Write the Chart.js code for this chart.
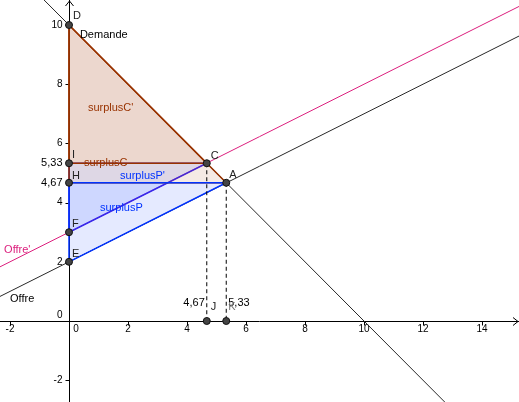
<!DOCTYPE html>
<html><head><meta charset="utf-8">
<script src="https://cdn.jsdelivr.net/npm/chart.js@4/dist/chart.umd.min.js"></script>
<style>html,body{margin:0;padding:0;background:#fff}#wrap{width:519px;height:402px;position:relative}</style>
</head><body><div id="wrap"><canvas id="c"></canvas></div>
<script>
// ---------- data ----------
const pointNames = ['D', 'I', 'H', 'F', 'E', 'C', 'A', 'J', 'K'];
const pointX = [0, 0, 0, 0, 0, 4.67, 5.33, 4.67, 5.33];
const pointY = [10, 5.33, 4.67, 3, 2, 5.33, 4.67, 0, 0];

const demandeX = [-3, 16];
const demandeY = [13, -6];
const offreX = [-3, 16];
const offreY = [0.5, 10];
const offrePrimeX = [-3, 16];
const offrePrimeY = [1.5, 11];

// polygon vertices (fill path from leftmost to rightmost, outline closed)
const surplusPPrimePoly = ['F', 'I', 'C'];
const surplusCPrimePoly = ['I', 'D', 'C'];
const surplusCPoly = ['H', 'D', 'A'];
const surplusPPoly = ['E', 'H', 'A'];

const dropLines = [['C', 'J'], ['A', 'K']];

const xTickValues = [-2, 0, 2, 4, 6, 8, 10, 12, 14];
const yTickValues = [-2, 0, 2, 4, 6, 8, 10];
const yMarkValues = [5.33, 4.67];
const yMarkLabels = ['5,33', '4,67'];
const xMarkValues = [4.67, 5.33];
const xMarkLabels = ['4,67', '5,33'];

const textLabels = ['Demande', "surplusC'", 'surplusC', "surplusP'", 'surplusP', "Offre'", 'Offre'];
const textX = [0.37, 0.64, 0.51, 1.73, 1.05, -2.20, -2.0];
const textY = [9.56, 7.09, 5.24, 4.80, 3.72, 2.30, 0.64];

// ---------- styles ----------
const BROWN = 'rgb(153,51,0)';
const BROWN_FILL = 'rgba(153,51,0,0.1)';
const BLUE = 'rgb(0,51,255)';
const BLUE_FILL = 'rgba(0,51,255,0.1)';
const PINK = 'rgb(220,30,125)';
const LINE = 'rgb(40,40,40)';
const FONT = '"Liberation Sans", Arial, sans-serif';
const textColors = ['#000', BROWN, BROWN, BLUE, BLUE, PINK, '#000'];
const labelOffsets = {D:[4,-6], I:[3,-5], H:[3,-4], F:[3,-5], E:[3,-5], C:[4,-4], A:[3,-5], J:[4,-11], K:[2,-11]};
const labelColors = {K:'#777'};

const P = n => { const i = pointNames.indexOf(n); return {x: pointX[i], y: pointY[i]}; };
const zip = (xs, ys) => xs.map((x, i) => ({x, y: ys[i]}));

function lineDs(data, color, order) {
  return {data, showLine: true, borderColor: color, borderWidth: 1, pointRadius: 0, fill: false, order};
}
function fillDs(names, color, order) {
  return {data: names.map(P), showLine: true, borderWidth: 0, borderColor: 'rgba(0,0,0,0)',
    backgroundColor: color, fill: 'shape', pointRadius: 0, order};
}
function outlineDs(names, color, order) {
  const pts = names.map(P); pts.push(P(names[0]));
  return {data: pts, showLine: true, borderWidth: 1.5, borderColor: color, pointRadius: 0, fill: false, order};
}

const datasets = [
  lineDs(zip(demandeX, demandeY), LINE, 30),
  lineDs(zip(offreX, offreY), LINE, 29),
  lineDs(zip(offrePrimeX, offrePrimeY), PINK, 28),
  fillDs(surplusPPrimePoly, BLUE_FILL, 20),
  outlineDs(surplusPPrimePoly, 'rgb(60,40,235)', 19),
  fillDs(surplusCPrimePoly, BROWN_FILL, 18),
  outlineDs(surplusCPrimePoly, BROWN, 17),
  fillDs(surplusCPoly, BROWN_FILL, 16),
  outlineDs(surplusCPoly, BROWN, 15),
  fillDs(surplusPPoly, BLUE_FILL, 14),
  outlineDs(surplusPPoly, BLUE, 13),
];
dropLines.forEach(([a, b]) => {
  datasets.push({data: [P(a), P(b)], showLine: true, borderColor: '#000', borderWidth: 1,
    borderDash: [4, 3], pointRadius: 0, fill: false, order: 5});
});
datasets.push({data: zip(pointX, pointY), showLine: false, pointRadius: 3.5,
  pointBackgroundColor: '#444', pointBorderColor: '#111', pointBorderWidth: 1, order: 0});

const axesPlugin = {
  id: 'axes',
  beforeDatasetsDraw(chart) {
    const {ctx, scales: {x, y}} = chart;
    const x0 = Math.round(x.getPixelForValue(0)) + 0.5;
    const y0 = Math.round(y.getPixelForValue(0)) + 0.5;
    ctx.save();
    ctx.strokeStyle = '#000'; ctx.lineWidth = 1;
    ctx.beginPath();
    ctx.moveTo(0, y0); ctx.lineTo(chart.width, y0);
    ctx.moveTo(x0, 0); ctx.lineTo(x0, chart.height);
    // arrows
    ctx.moveTo(chart.width - 6, y0 - 4); ctx.lineTo(chart.width - 1, y0); ctx.lineTo(chart.width - 6, y0 + 4);
    ctx.moveTo(x0 - 4, 6); ctx.lineTo(x0, 1); ctx.lineTo(x0 + 4, 6);
    // ticks
    xTickValues.forEach(v => { if (v === 0) return; const p = Math.round(x.getPixelForValue(v)) + 0.5; ctx.moveTo(p, y0); ctx.lineTo(p, y0 + 4); });
    yTickValues.forEach(v => { if (v === 0) return; const p = Math.round(y.getPixelForValue(v)) + 0.5; ctx.moveTo(x0, p); ctx.lineTo(x0 - 4, p); });
    ctx.stroke();
    // tick labels
    ctx.fillStyle = '#000';
    ctx.font = '10px ' + FONT;
    ctx.textAlign = 'center'; ctx.textBaseline = 'middle';
    xTickValues.forEach(v => {
      const p = x.getPixelForValue(v);
      ctx.fillText(String(v), v === 0 ? p + 7 : p, y0 + 8);
    });
    ctx.textAlign = 'right';
    yTickValues.forEach(v => {
      const p = y.getPixelForValue(v);
      ctx.fillText(String(v), x0 - 7, v === 0 ? p - 6 : p);
    });
    ctx.font = '11px ' + FONT;
    yMarkValues.forEach((v, i) => ctx.fillText(yMarkLabels[i], x0 - 7, y.getPixelForValue(v)));
    xMarkValues.forEach((v, i) => {
      const p = x.getPixelForValue(v);
      ctx.textAlign = i === 0 ? 'right' : 'left';
      ctx.fillText(xMarkLabels[i], i === 0 ? p - 2 : p + 2, y0 - 19);
    });
    ctx.restore();
  },
  afterDatasetsDraw(chart) {
    const {ctx, scales: {x, y}} = chart;
    ctx.save();
    ctx.textBaseline = 'alphabetic'; ctx.textAlign = 'left';
    ctx.font = '11px ' + FONT;
    textLabels.forEach((t, i) => {
      ctx.fillStyle = textColors[i];
      ctx.fillText(t, x.getPixelForValue(textX[i]), y.getPixelForValue(textY[i]));
    });
    ctx.font = '11px ' + FONT;
    pointNames.forEach((n, i) => {
      const off = labelOffsets[n];
      ctx.fillStyle = labelColors[n] || '#222';
      ctx.fillText(n, x.getPixelForValue(pointX[i]) + off[0], y.getPixelForValue(pointY[i]) + off[1]);
    });
    ctx.restore();
  }
};

const chart = new Chart(document.getElementById('c'), {
  type: 'scatter',
  data: {datasets},
  options: {
    responsive: true, maintainAspectRatio: false, animation: false, devicePixelRatio: 1,
    events: [],
    layout: {padding: 0, autoPadding: false},
    elements: {line: {tension: 0}},
    plugins: {legend: {display: false}, tooltip: {enabled: false}},
    scales: {
      x: {type: 'linear', min: -2.339, max: 15.254, display: false},
      y: {type: 'linear', min: -2.736, max: 10.845, display: false}
    }
  },
  plugins: [axesPlugin]
});
</script></body></html>
